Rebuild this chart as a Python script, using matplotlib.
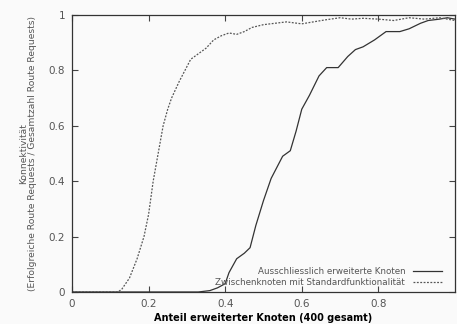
import matplotlib
matplotlib.use("Agg")
import matplotlib.pyplot as plt

# Data
x_std = [0.0, 0.12, 0.13, 0.15, 0.17, 0.188, 0.2, 0.212, 0.225, 0.238, 0.25, 0.26, 0.28, 0.295,
         0.31, 0.33, 0.35, 0.37, 0.39, 0.41, 0.43, 0.45, 0.47, 0.5, 0.53, 0.56, 0.6, 0.63, 0.66,
         0.7, 0.73, 0.76, 0.8, 0.84, 0.88, 0.92, 0.96, 1.0]
y_std = [0.0, 0.0, 0.01, 0.05, 0.12, 0.2, 0.28, 0.4, 0.5, 0.6, 0.66, 0.7, 0.76, 0.8,
         0.84, 0.86, 0.88, 0.91, 0.925, 0.935, 0.93, 0.94, 0.955, 0.965, 0.97, 0.975, 0.968, 0.975, 0.982,
         0.99, 0.985, 0.988, 0.985, 0.98, 0.99, 0.985, 0.99, 0.98]

x_ext = [0.0, 0.3, 0.33, 0.36, 0.38, 0.4, 0.41, 0.43, 0.45, 0.465, 0.48, 0.5, 0.52, 0.55, 0.57,
         0.585, 0.6, 0.62, 0.645, 0.665, 0.68, 0.695, 0.72, 0.74, 0.76, 0.79, 0.82, 0.856, 0.88,
         0.91, 0.93, 0.96, 0.98, 1.0]
y_ext = [0.0, 0.0, 0.0, 0.005, 0.015, 0.03, 0.07, 0.12, 0.14, 0.16, 0.24, 0.33, 0.41, 0.49, 0.51,
         0.58, 0.66, 0.71, 0.78, 0.81, 0.81, 0.81, 0.85, 0.875, 0.885, 0.91, 0.94, 0.94, 0.95,
         0.97, 0.98, 0.985, 0.99, 0.985]

x_ticks = [0, 0.2, 0.4, 0.6, 0.8]
x_ticklabels = ["0", "0.2", "0.4", "0.6", "0.8"]
y_ticks = [0, 0.2, 0.4, 0.6, 0.8, 1]
y_ticklabels = ["0", "0.2", "0.4", "0.6", "0.8", "1"]

fig = plt.figure(figsize=(4.57, 3.24), dpi=100, facecolor="#fafafa")
ax = fig.add_axes([0.1575, 0.0988, 0.8381, 0.855])
ax.set_facecolor("#fafafa")

l1, = ax.plot(x_ext, y_ext, color="#333333", lw=0.9, ls="-")
l2, = ax.plot(x_std, y_std, color="#555555", lw=0.9, ls=(0, (1.5, 1.2)))

ax.set_xlim(0, 1)
ax.set_ylim(0, 1)
ax.set_xticks(x_ticks)
ax.set_xticklabels(x_ticklabels)
ax.set_yticks(y_ticks)
ax.set_yticklabels(y_ticklabels)
ax.tick_params(direction="in", length=4, width=0.8, colors="#444444", labelcolor="#555555",
               labelsize=7.5, top=True, right=True, pad=5)
for s in ax.spines.values():
    s.set_color("#333333")
    s.set_linewidth(0.9)

ax.set_xlabel("Anteil erweiterter Knoten (400 gesamt)", fontsize=7, color="#000000",
              fontweight="bold", labelpad=3)
ax.set_ylabel("Konnektivität\n(Erfolgreiche Route Requests / Gesamtzahl Route Requests)",
              fontsize=6.6, color="#555555", labelpad=8, linespacing=1.1)

leg = ax.legend([l1, l2], ["Ausschliesslich erweiterte Knoten",
                           "Zwischenknoten mit Standardfunktionalität"],
                loc="lower right", bbox_to_anchor=(0.966, 0.018), frameon=False,
                fontsize=6.3, markerfirst=False, handlelength=3.3, handletextpad=0.9,
                labelspacing=0.26, borderpad=0, borderaxespad=0, alignment="right")
for t in leg.get_texts():
    t.set_color("#555555")
    t.set_ha("right")

fig.savefig("out.png", dpi=100, facecolor=fig.get_facecolor())
